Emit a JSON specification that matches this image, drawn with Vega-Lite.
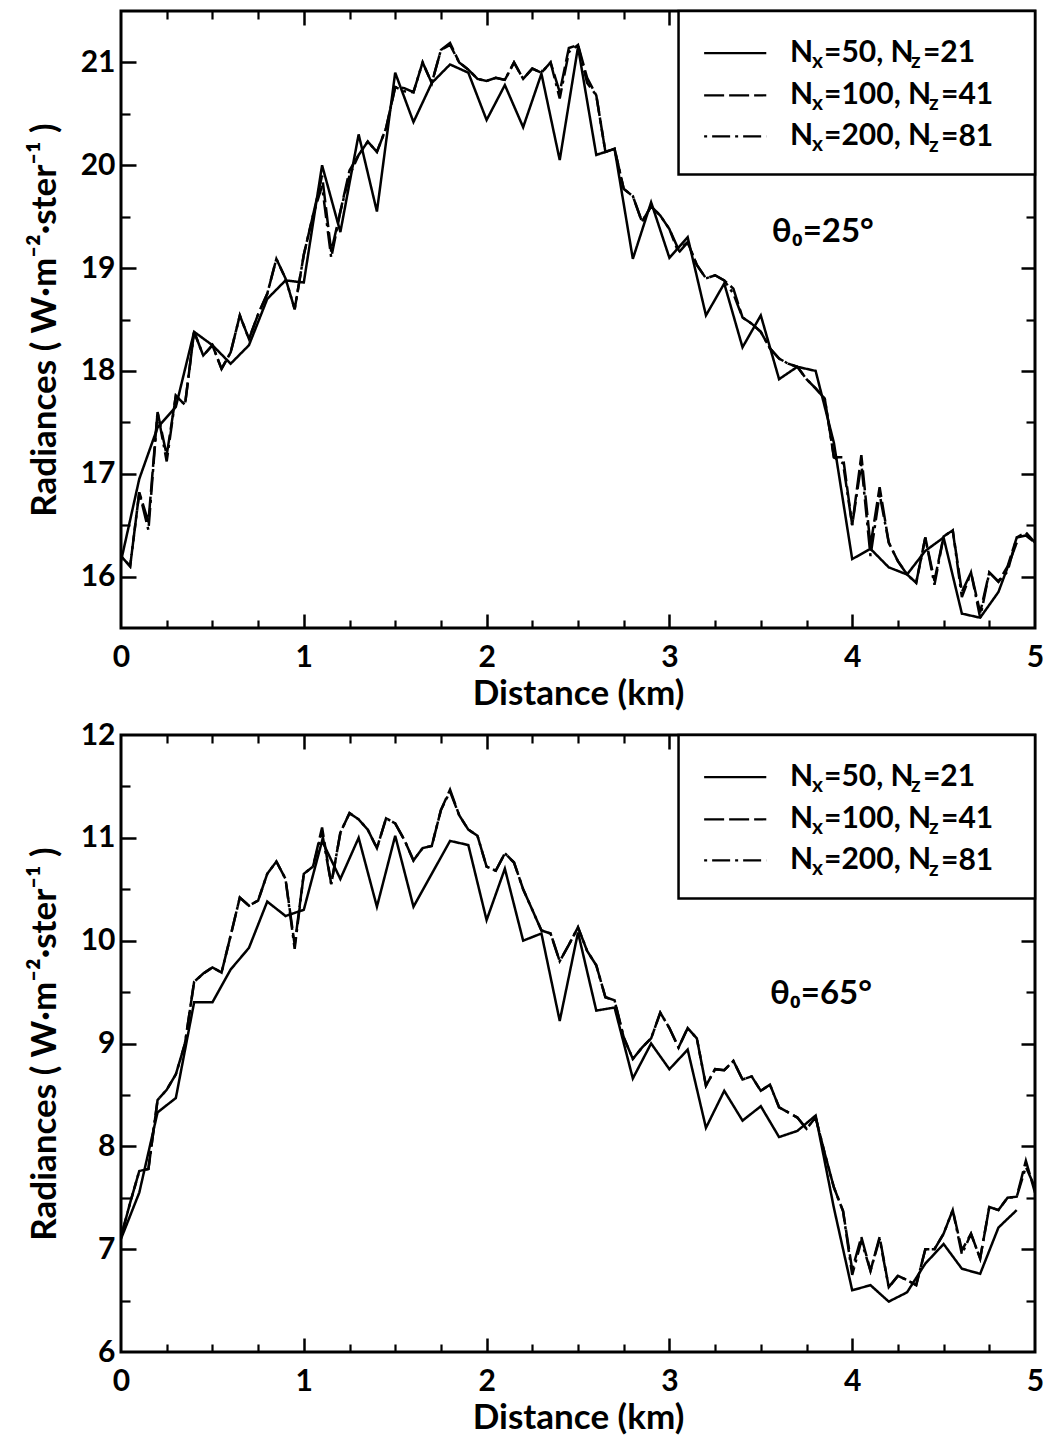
{
"$schema": "https://vega.github.io/schema/vega-lite/v6.json",
"padding": {"left": 25, "top": 8, "right": 5, "bottom": 5},
"spacing": 5,
"config": {"font": "Lato", "view": {"stroke": "black", "strokeWidth": 3}, "axis": {"labelColor": "black", "titleColor": "black", "tickColor": "black", "grid": false}, "text": {"color": "black"}},
"datasets": {
"top": [
{"distance":0,"nx50":16.15,"nx100":16.2,"nx200":16.2},
{"distance":0.05,"nx100":16.1,"nx200":16.1},
{"distance":0.1,"nx50":16.95,"nx100":16.82,"nx200":16.82},
{"distance":0.15,"nx100":16.53,"nx200":16.45},
{"distance":0.2,"nx50":17.45,"nx100":17.6,"nx200":17.6},
{"distance":0.25,"nx100":17.18,"nx200":17.12},
{"distance":0.3,"nx50":17.65,"nx100":17.76,"nx200":17.76},
{"distance":0.35,"nx100":17.67,"nx200":17.67},
{"distance":0.4,"nx50":18.38,"nx100":18.38,"nx200":18.38},
{"distance":0.45,"nx100":18.15,"nx200":18.15},
{"distance":0.5,"nx50":18.25,"nx100":18.25,"nx200":18.25},
{"distance":0.55,"nx100":18.02,"nx200":18.02},
{"distance":0.6,"nx50":18.07,"nx100":18.18,"nx200":18.18},
{"distance":0.65,"nx100":18.54,"nx200":18.54},
{"distance":0.7,"nx50":18.25,"nx100":18.31,"nx200":18.31},
{"distance":0.75,"nx100":18.55,"nx200":18.55},
{"distance":0.8,"nx50":18.7,"nx100":18.75,"nx200":18.75},
{"distance":0.85,"nx100":19.09,"nx200":19.09},
{"distance":0.9,"nx50":18.88,"nx100":18.9,"nx200":18.9},
{"distance":0.95,"nx100":18.6,"nx200":18.6},
{"distance":1,"nx50":18.86,"nx100":19.13,"nx200":19.13},
{"distance":1.05,"nx100":19.51,"nx200":19.51},
{"distance":1.1,"nx50":20.0,"nx100":19.9,"nx200":19.8},
{"distance":1.15,"nx100":19.16,"nx200":19.1},
{"distance":1.2,"nx50":19.35,"nx100":19.55,"nx200":19.55},
{"distance":1.25,"nx100":19.95,"nx200":19.9},
{"distance":1.3,"nx50":20.3,"nx100":20.1,"nx200":20.1},
{"distance":1.35,"nx100":20.23,"nx200":20.23},
{"distance":1.4,"nx50":19.55,"nx100":20.13,"nx200":20.13},
{"distance":1.45,"nx100":20.36,"nx200":20.36},
{"distance":1.5,"nx50":20.9,"nx100":20.76,"nx200":20.76},
{"distance":1.55,"nx100":20.75,"nx200":20.72},
{"distance":1.6,"nx50":20.42,"nx100":20.71,"nx200":20.71},
{"distance":1.65,"nx100":21.0,"nx200":21.0},
{"distance":1.7,"nx50":20.8,"nx100":20.8,"nx200":20.8},
{"distance":1.75,"nx100":21.12,"nx200":21.12},
{"distance":1.8,"nx50":20.98,"nx100":21.19,"nx200":21.17},
{"distance":1.85,"nx100":21.0,"nx200":21.0},
{"distance":1.9,"nx50":20.9,"nx100":20.93,"nx200":20.93},
{"distance":1.95,"nx100":20.84,"nx200":20.84},
{"distance":2,"nx50":20.44,"nx100":20.82,"nx200":20.82},
{"distance":2.05,"nx100":20.85,"nx200":20.85},
{"distance":2.1,"nx50":20.78,"nx100":20.83,"nx200":20.83},
{"distance":2.15,"nx100":21.0,"nx200":21.0},
{"distance":2.2,"nx50":20.37,"nx100":20.84,"nx200":20.84},
{"distance":2.25,"nx100":20.94,"nx200":20.94},
{"distance":2.3,"nx50":20.89,"nx100":20.9,"nx200":20.9},
{"distance":2.35,"nx100":21.0,"nx200":21.0},
{"distance":2.4,"nx50":20.05,"nx100":20.71,"nx200":20.65},
{"distance":2.45,"nx100":21.14,"nx200":21.1},
{"distance":2.5,"nx50":21.15,"nx100":21.17,"nx200":21.17},
{"distance":2.55,"nx100":20.85,"nx200":20.8},
{"distance":2.6,"nx50":20.1,"nx100":20.68,"nx200":20.68},
{"distance":2.65,"nx100":20.13,"nx200":20.13},
{"distance":2.7,"nx50":20.16,"nx100":20.16,"nx200":20.16},
{"distance":2.75,"nx100":19.77,"nx200":19.77},
{"distance":2.8,"nx50":19.09,"nx100":19.7,"nx200":19.7},
{"distance":2.85,"nx100":19.45,"nx200":19.45},
{"distance":2.9,"nx50":19.64,"nx100":19.6,"nx200":19.6},
{"distance":2.95,"nx100":19.51,"nx200":19.51},
{"distance":3,"nx50":19.1,"nx100":19.38,"nx200":19.38},
{"distance":3.05,"nx100":19.18,"nx200":19.15},
{"distance":3.1,"nx50":19.3,"nx100":19.25,"nx200":19.25},
{"distance":3.15,"nx100":19.03,"nx200":19.03},
{"distance":3.2,"nx50":18.54,"nx100":18.9,"nx200":18.9},
{"distance":3.25,"nx100":18.93,"nx200":18.93},
{"distance":3.3,"nx50":18.85,"nx100":18.88,"nx200":18.88},
{"distance":3.35,"nx100":18.8,"nx200":18.75},
{"distance":3.4,"nx50":18.23,"nx100":18.52,"nx200":18.52},
{"distance":3.45,"nx100":18.46,"nx200":18.46},
{"distance":3.5,"nx50":18.54,"nx100":18.38,"nx200":18.38},
{"distance":3.55,"nx100":18.22,"nx200":18.22},
{"distance":3.6,"nx50":17.92,"nx100":18.12,"nx200":18.12},
{"distance":3.65,"nx100":18.07,"nx200":18.07},
{"distance":3.7,"nx50":18.04,"nx100":18.04,"nx200":18.04},
{"distance":3.75,"nx100":17.92,"nx200":17.92},
{"distance":3.8,"nx50":18.0,"nx100":17.83,"nx200":17.83},
{"distance":3.85,"nx100":17.73,"nx200":17.73},
{"distance":3.9,"nx50":17.3,"nx100":17.16,"nx200":17.16},
{"distance":3.95,"nx100":17.16,"nx200":17.1},
{"distance":4,"nx50":16.17,"nx100":16.5,"nx200":16.5},
{"distance":4.05,"nx100":17.18,"nx200":17.1},
{"distance":4.1,"nx50":16.27,"nx100":16.3,"nx200":16.2},
{"distance":4.15,"nx100":16.87,"nx200":16.8},
{"distance":4.2,"nx50":16.09,"nx100":16.33,"nx200":16.33},
{"distance":4.25,"nx100":16.15,"nx200":16.15},
{"distance":4.3,"nx50":16.02,"nx100":16.02,"nx200":16.02},
{"distance":4.35,"nx100":15.94,"nx200":15.94},
{"distance":4.4,"nx50":16.25,"nx100":16.38,"nx200":16.38},
{"distance":4.45,"nx100":15.96,"nx200":15.92},
{"distance":4.5,"nx50":16.38,"nx100":16.39,"nx200":16.39},
{"distance":4.55,"nx100":16.45,"nx200":16.45},
{"distance":4.6,"nx50":15.64,"nx100":15.85,"nx200":15.8},
{"distance":4.65,"nx100":16.04,"nx200":16.04},
{"distance":4.7,"nx50":15.6,"nx100":15.65,"nx200":15.6},
{"distance":4.75,"nx100":16.04,"nx200":16.04},
{"distance":4.8,"nx50":15.85,"nx100":15.95,"nx200":15.95},
{"distance":4.85,"nx100":16.1,"nx200":16.05},
{"distance":4.9,"nx50":16.33,"nx100":16.38,"nx200":16.38},
{"distance":4.95,"nx100":16.43,"nx200":16.4},
{"distance":5,"nx100":16.33,"nx200":16.33}
],
"bottom": [
{"distance":0,"nx50":7.1,"nx100":7.12,"nx200":7.12},
{"distance":0.05,"nx100":7.45,"nx200":7.45},
{"distance":0.1,"nx50":7.55,"nx100":7.76,"nx200":7.76},
{"distance":0.15,"nx100":7.78,"nx200":7.78},
{"distance":0.2,"nx50":8.33,"nx100":8.45,"nx200":8.45},
{"distance":0.25,"nx100":8.55,"nx200":8.55},
{"distance":0.3,"nx50":8.47,"nx100":8.7,"nx200":8.7},
{"distance":0.35,"nx100":9.0,"nx200":9.0},
{"distance":0.4,"nx50":9.4,"nx100":9.6,"nx200":9.6},
{"distance":0.45,"nx100":9.68,"nx200":9.68},
{"distance":0.5,"nx50":9.4,"nx100":9.74,"nx200":9.74},
{"distance":0.55,"nx100":9.69,"nx200":9.69},
{"distance":0.6,"nx50":9.72,"nx100":10.05,"nx200":10.05},
{"distance":0.65,"nx100":10.42,"nx200":10.42},
{"distance":0.7,"nx50":9.93,"nx100":10.34,"nx200":10.34},
{"distance":0.75,"nx100":10.39,"nx200":10.39},
{"distance":0.8,"nx50":10.38,"nx100":10.65,"nx200":10.65},
{"distance":0.85,"nx100":10.77,"nx200":10.77},
{"distance":0.9,"nx50":10.24,"nx100":10.6,"nx200":10.6},
{"distance":0.95,"nx100":9.96,"nx200":9.92},
{"distance":1,"nx50":10.3,"nx100":10.65,"nx200":10.65},
{"distance":1.05,"nx100":10.72,"nx200":10.72},
{"distance":1.1,"nx50":10.97,"nx100":11.1,"nx200":11.05},
{"distance":1.15,"nx100":10.55,"nx200":10.55},
{"distance":1.2,"nx50":10.6,"nx100":11.05,"nx200":11.05},
{"distance":1.25,"nx100":11.24,"nx200":11.24},
{"distance":1.3,"nx50":11.0,"nx100":11.18,"nx200":11.18},
{"distance":1.35,"nx100":11.08,"nx200":11.08},
{"distance":1.4,"nx50":10.33,"nx100":10.9,"nx200":10.9},
{"distance":1.45,"nx100":11.19,"nx200":11.19},
{"distance":1.5,"nx50":11.02,"nx100":11.14,"nx200":11.14},
{"distance":1.55,"nx100":10.98,"nx200":10.98},
{"distance":1.6,"nx50":10.33,"nx100":10.78,"nx200":10.78},
{"distance":1.65,"nx100":10.9,"nx200":10.9},
{"distance":1.7,"nx50":10.65,"nx100":10.92,"nx200":10.92},
{"distance":1.75,"nx100":11.27,"nx200":11.27},
{"distance":1.8,"nx50":10.97,"nx100":11.47,"nx200":11.45},
{"distance":1.85,"nx100":11.22,"nx200":11.22},
{"distance":1.9,"nx50":10.93,"nx100":11.08,"nx200":11.08},
{"distance":1.95,"nx100":11.02,"nx200":11.02},
{"distance":2,"nx50":10.2,"nx100":10.72,"nx200":10.72},
{"distance":2.05,"nx100":10.68,"nx200":10.68},
{"distance":2.1,"nx50":10.7,"nx100":10.85,"nx200":10.85},
{"distance":2.15,"nx100":10.76,"nx200":10.76},
{"distance":2.2,"nx50":10.0,"nx100":10.5,"nx200":10.5},
{"distance":2.25,"nx100":10.3,"nx200":10.3},
{"distance":2.3,"nx50":10.07,"nx100":10.1,"nx200":10.1},
{"distance":2.35,"nx100":10.07,"nx200":10.07},
{"distance":2.4,"nx50":9.22,"nx100":9.8,"nx200":9.8},
{"distance":2.45,"nx100":9.96,"nx200":9.96},
{"distance":2.5,"nx50":10.08,"nx100":10.13,"nx200":10.13},
{"distance":2.55,"nx100":9.9,"nx200":9.9},
{"distance":2.6,"nx50":9.32,"nx100":9.76,"nx200":9.76},
{"distance":2.65,"nx100":9.45,"nx200":9.45},
{"distance":2.7,"nx50":9.35,"nx100":9.42,"nx200":9.42},
{"distance":2.75,"nx100":9.06,"nx200":9.06},
{"distance":2.8,"nx50":8.66,"nx100":8.85,"nx200":8.85},
{"distance":2.85,"nx100":8.96,"nx200":8.96},
{"distance":2.9,"nx50":9.0,"nx100":9.05,"nx200":9.05},
{"distance":2.95,"nx100":9.3,"nx200":9.3},
{"distance":3,"nx50":8.75,"nx100":9.15,"nx200":9.15},
{"distance":3.05,"nx100":8.96,"nx200":8.96},
{"distance":3.1,"nx50":8.94,"nx100":9.15,"nx200":9.15},
{"distance":3.15,"nx100":9.05,"nx200":9.05},
{"distance":3.2,"nx50":8.18,"nx100":8.59,"nx200":8.59},
{"distance":3.25,"nx100":8.75,"nx200":8.75},
{"distance":3.3,"nx50":8.54,"nx100":8.74,"nx200":8.74},
{"distance":3.35,"nx100":8.83,"nx200":8.83},
{"distance":3.4,"nx50":8.25,"nx100":8.65,"nx200":8.65},
{"distance":3.45,"nx100":8.68,"nx200":8.68},
{"distance":3.5,"nx50":8.39,"nx100":8.54,"nx200":8.54},
{"distance":3.55,"nx100":8.6,"nx200":8.6},
{"distance":3.6,"nx50":8.09,"nx100":8.38,"nx200":8.38},
{"distance":3.65,"nx100":8.33,"nx200":8.33},
{"distance":3.7,"nx50":8.15,"nx100":8.28,"nx200":8.28},
{"distance":3.75,"nx100":8.17,"nx200":8.17},
{"distance":3.8,"nx50":8.3,"nx100":8.28,"nx200":8.28},
{"distance":3.85,"nx100":7.93,"nx200":7.93},
{"distance":3.9,"nx50":7.4,"nx100":7.6,"nx200":7.6},
{"distance":3.95,"nx100":7.37,"nx200":7.37},
{"distance":4,"nx50":6.6,"nx100":6.8,"nx200":6.75},
{"distance":4.05,"nx100":7.12,"nx200":7.08},
{"distance":4.1,"nx50":6.65,"nx100":6.79,"nx200":6.79},
{"distance":4.15,"nx100":7.12,"nx200":7.1},
{"distance":4.2,"nx50":6.49,"nx100":6.63,"nx200":6.63},
{"distance":4.25,"nx100":6.74,"nx200":6.74},
{"distance":4.3,"nx50":6.58,"nx100":6.7,"nx200":6.7},
{"distance":4.35,"nx100":6.65,"nx200":6.65},
{"distance":4.4,"nx50":6.86,"nx100":7.0,"nx200":7.0},
{"distance":4.45,"nx100":7.0,"nx200":7.0},
{"distance":4.5,"nx50":7.05,"nx100":7.15,"nx200":7.15},
{"distance":4.55,"nx100":7.38,"nx200":7.38},
{"distance":4.6,"nx50":6.81,"nx100":6.99,"nx200":6.95},
{"distance":4.65,"nx100":7.15,"nx200":7.15},
{"distance":4.7,"nx50":6.76,"nx100":6.91,"nx200":6.91},
{"distance":4.75,"nx100":7.41,"nx200":7.41},
{"distance":4.8,"nx50":7.21,"nx100":7.38,"nx200":7.38},
{"distance":4.85,"nx100":7.5,"nx200":7.5},
{"distance":4.9,"nx50":7.38,"nx100":7.51,"nx200":7.51},
{"distance":4.95,"nx100":7.86,"nx200":7.8},
{"distance":5,"nx100":7.55,"nx200":7.6}
]
},
"vconcat": [
{
"width": 914, "height": 617,
"resolve": {"axis": {"x": "independent", "y": "independent"}},
"layer": [
{"data": {"name": "top"},
 "transform": [{"fold": ["nx50","nx100","nx200"], "as": ["series","radiance"]}, {"filter": {"field": "radiance", "valid": true}}],
 "mark": {"type": "line", "color": "black", "strokeWidth": 2.5, "clip": true},
 "encoding": {
  "x": {"field": "distance", "type": "quantitative", "scale": {"domain": [0,5], "nice": false, "zero": false},
        "axis": {"orient": "bottom", "values": [0,1,2,3,4,5], "format": "d", "ticks": false, "domain": false, "labelFontSize": 30, "labelFontWeight": "bold", "labelPadding": 14, "labelFlush": false, "labelOverlap": false, "title": "Distance (km)", "titleFontSize": 35, "titleFontWeight": "bold", "titlePadding": 4}},
  "y": {"field": "radiance", "type": "quantitative", "scale": {"domain": [15.5,21.5], "nice": false, "zero": false},
        "axis": {"orient": "left", "values": [16,17,18,19,20,21], "format": "d", "ticks": false, "domain": false, "labelFontSize": 30, "labelFontWeight": "bold", "labelPadding": 6, "labelFlush": false, "labelOverlap": false, "title": "Radiances ( W·m⁻²·ster⁻¹ )", "titleFontSize": 35, "titleFontWeight": "bold", "titlePadding": 18}},
  "strokeDash": {"field": "series", "type": "nominal", "scale": {"domain": ["nx50","nx100","nx200"], "range": [[1,0],[20,5],[3,5,18,5]]}, "legend": null}
 }},
{"data": {"values": [{}]},
 "mark": {"type": "rect", "fill": "white", "stroke": "black", "strokeWidth": 2.5},
 "encoding": {
  "x": {"datum": 3.05, "type": "quantitative", "scale": {"domain": [0,5], "nice": false, "zero": false}, "axis": {"orient": "bottom", "values": [1,2,3,4], "labels": false, "domain": false, "tickSize": -14, "tickWidth": 2.5, "title": null}},
  "x2": {"datum": 5},
  "y": {"datum": 19.91, "type": "quantitative", "scale": {"domain": [15.5,21.5], "nice": false, "zero": false}, "axis": {"orient": "left", "values": [16,17,18,19,20,21], "labels": false, "domain": false, "tickSize": -15, "tickWidth": 2.5, "title": null}},
  "y2": {"datum": 21.5}
 }},
{"data": {"values": [{}]},
 "mark": {"type": "rule", "color": "black", "strokeWidth": 2.2},
 "encoding": {
  "x": {"datum": 3.19, "type": "quantitative", "scale": {"domain": [0,5], "nice": false, "zero": false}, "axis": {"orient": "bottom", "values": [0.25,0.5,0.75,1.25,1.5,1.75,2.25,2.5,2.75,3.25,3.5,3.75,4.25,4.5,4.75], "labels": false, "domain": false, "tickSize": -8, "tickWidth": 2.2, "title": null}},
  "x2": {"datum": 3.53},
  "y": {"datum": 21.09, "type": "quantitative", "scale": {"domain": [15.5,21.5], "nice": false, "zero": false}, "axis": {"orient": "left", "values": [16.5,17.5,18.5,19.5,20.5], "labels": false, "domain": false, "tickSize": -9, "tickWidth": 2.2, "title": null}}
 }},
{"data": {"values": [{}]},
 "mark": {"type": "rule", "color": "black", "strokeWidth": 2.2, "strokeDash": [20,5]},
 "encoding": {
  "x": {"datum": 3.19, "type": "quantitative", "scale": {"domain": [0,5], "nice": false, "zero": false}, "axis": {"orient": "top", "values": [1,2,3,4], "labels": false, "domain": false, "tickSize": -14, "tickWidth": 2.5, "title": null}},
  "x2": {"datum": 3.53},
  "y": {"datum": 20.68, "type": "quantitative", "scale": {"domain": [15.5,21.5], "nice": false, "zero": false}, "axis": {"orient": "right", "values": [16,17,18,19,20,21], "labels": false, "domain": false, "tickSize": -14, "tickWidth": 2.5, "title": null}}
 }},
{"data": {"values": [{}]},
 "mark": {"type": "rule", "color": "black", "strokeWidth": 2.2, "strokeDash": [3,5,18,5]},
 "encoding": {
  "x": {"datum": 3.19, "type": "quantitative", "scale": {"domain": [0,5], "nice": false, "zero": false}, "axis": {"orient": "top", "values": [0.25,0.5,0.75,1.25,1.5,1.75,2.25,2.5,2.75,3.25,3.5,3.75,4.25,4.5,4.75], "labels": false, "domain": false, "tickSize": -8, "tickWidth": 2.2, "title": null}},
  "x2": {"datum": 3.53},
  "y": {"datum": 20.28, "type": "quantitative", "scale": {"domain": [15.5,21.5], "nice": false, "zero": false}, "axis": {"orient": "right", "values": [16.5,17.5,18.5,19.5,20.5], "labels": false, "domain": false, "tickSize": -9, "tickWidth": 2.2, "title": null}}
 }},
{"data": {"values": [{}]},
 "mark": {"type": "text", "align": "left", "baseline": "middle", "fontSize": 30, "fontWeight": "bold", "lineHeight": 41.6},
 "encoding": {"x": {"datum": 3.66, "type": "quantitative", "axis": null}, "y": {"datum": 21.09, "type": "quantitative", "axis": null}, "text": {"value": ["N","N","N"]}}},
{"data": {"values": [{}]},
 "mark": {"type": "text", "align": "left", "baseline": "middle", "fontSize": 21, "fontWeight": "bold", "lineHeight": 41.6, "dy": 9},
 "encoding": {"x": {"datum": 3.78, "type": "quantitative", "axis": null}, "y": {"datum": 21.09, "type": "quantitative", "axis": null}, "text": {"value": ["x","x","x"]}}},
{"data": {"values": [{}]},
 "mark": {"type": "text", "align": "left", "baseline": "middle", "fontSize": 30, "fontWeight": "bold", "lineHeight": 41.6},
 "encoding": {"x": {"datum": 3.846, "type": "quantitative", "axis": null}, "y": {"datum": 21.09, "type": "quantitative", "axis": null}, "text": {"value": ["=50, N","=100, N","=200, N"]}}},
{"data": {"values": [{}]},
 "mark": {"type": "text", "align": "left", "baseline": "middle", "fontSize": 21, "fontWeight": "bold", "dy": 9},
 "encoding": {"x": {"datum": 4.322, "type": "quantitative", "axis": null}, "y": {"datum": 21.09, "type": "quantitative", "axis": null}, "text": {"value": "z"}}},
{"data": {"values": [{}]},
 "mark": {"type": "text", "align": "left", "baseline": "middle", "fontSize": 30, "fontWeight": "bold"},
 "encoding": {"x": {"datum": 4.387, "type": "quantitative", "axis": null}, "y": {"datum": 21.09, "type": "quantitative", "axis": null}, "text": {"value": "=21"}}},
{"data": {"values": [{}]},
 "mark": {"type": "text", "align": "left", "baseline": "middle", "fontSize": 21, "fontWeight": "bold", "lineHeight": 41.6, "dy": 9},
 "encoding": {"x": {"datum": 4.42, "type": "quantitative", "axis": null}, "y": {"datum": 20.68, "type": "quantitative", "axis": null}, "text": {"value": ["z","z"]}}},
{"data": {"values": [{}]},
 "mark": {"type": "text", "align": "left", "baseline": "middle", "fontSize": 30, "fontWeight": "bold", "lineHeight": 41.6},
 "encoding": {"x": {"datum": 4.486, "type": "quantitative", "axis": null}, "y": {"datum": 20.68, "type": "quantitative", "axis": null}, "text": {"value": ["=41","=81"]}}},
{"data": {"values": [{}]},
 "mark": {"type": "text", "align": "left", "baseline": "middle", "fontSize": 33, "fontWeight": "bold"},
 "encoding": {"x": {"datum": 3.56, "type": "quantitative", "axis": null}, "y": {"datum": 19.35, "type": "quantitative", "axis": null}, "text": {"value": "θ₀=25°"}}}
]
},
{
"width": 914, "height": 617,
"resolve": {"axis": {"x": "independent", "y": "independent"}},
"layer": [
{"data": {"name": "bottom"},
 "transform": [{"fold": ["nx50","nx100","nx200"], "as": ["series","radiance"]}, {"filter": {"field": "radiance", "valid": true}}],
 "mark": {"type": "line", "color": "black", "strokeWidth": 2.5, "clip": true},
 "encoding": {
  "x": {"field": "distance", "type": "quantitative", "scale": {"domain": [0,5], "nice": false, "zero": false},
        "axis": {"orient": "bottom", "values": [0,1,2,3,4,5], "format": "d", "ticks": false, "domain": false, "labelFontSize": 30, "labelFontWeight": "bold", "labelPadding": 14, "labelFlush": false, "labelOverlap": false, "title": "Distance (km)", "titleFontSize": 35, "titleFontWeight": "bold", "titlePadding": 4}},
  "y": {"field": "radiance", "type": "quantitative", "scale": {"domain": [6,12], "nice": false, "zero": false},
        "axis": {"orient": "left", "values": [6,7,8,9,10,11,12], "format": "d", "ticks": false, "domain": false, "labelFontSize": 30, "labelFontWeight": "bold", "labelPadding": 6, "labelFlush": false, "labelOverlap": false, "title": "Radiances ( W·m⁻²·ster⁻¹ )", "titleFontSize": 35, "titleFontWeight": "bold", "titlePadding": 18}},
  "strokeDash": {"field": "series", "type": "nominal", "scale": {"domain": ["nx50","nx100","nx200"], "range": [[1,0],[20,5],[3,5,18,5]]}, "legend": null}
 }},
{"data": {"values": [{}]},
 "mark": {"type": "rect", "fill": "white", "stroke": "black", "strokeWidth": 2.5},
 "encoding": {
  "x": {"datum": 3.05, "type": "quantitative", "scale": {"domain": [0,5], "nice": false, "zero": false}, "axis": {"orient": "bottom", "values": [1,2,3,4], "labels": false, "domain": false, "tickSize": -14, "tickWidth": 2.5, "title": null}},
  "x2": {"datum": 5},
  "y": {"datum": 10.41, "type": "quantitative", "scale": {"domain": [6,12], "nice": false, "zero": false}, "axis": {"orient": "left", "values": [7,8,9,10,11], "labels": false, "domain": false, "tickSize": -15, "tickWidth": 2.5, "title": null}},
  "y2": {"datum": 12}
 }},
{"data": {"values": [{}]},
 "mark": {"type": "rule", "color": "black", "strokeWidth": 2.2},
 "encoding": {
  "x": {"datum": 3.19, "type": "quantitative", "scale": {"domain": [0,5], "nice": false, "zero": false}, "axis": {"orient": "bottom", "values": [0.25,0.5,0.75,1.25,1.5,1.75,2.25,2.5,2.75,3.25,3.5,3.75,4.25,4.5,4.75], "labels": false, "domain": false, "tickSize": -8, "tickWidth": 2.2, "title": null}},
  "x2": {"datum": 3.53},
  "y": {"datum": 11.59, "type": "quantitative", "scale": {"domain": [6,12], "nice": false, "zero": false}, "axis": {"orient": "left", "values": [6.5,7.5,8.5,9.5,10.5,11.5], "labels": false, "domain": false, "tickSize": -9, "tickWidth": 2.2, "title": null}}
 }},
{"data": {"values": [{}]},
 "mark": {"type": "rule", "color": "black", "strokeWidth": 2.2, "strokeDash": [20,5]},
 "encoding": {
  "x": {"datum": 3.19, "type": "quantitative", "scale": {"domain": [0,5], "nice": false, "zero": false}, "axis": {"orient": "top", "values": [1,2,3,4], "labels": false, "domain": false, "tickSize": -14, "tickWidth": 2.5, "title": null}},
  "x2": {"datum": 3.53},
  "y": {"datum": 11.18, "type": "quantitative", "scale": {"domain": [6,12], "nice": false, "zero": false}, "axis": {"orient": "right", "values": [7,8,9,10,11], "labels": false, "domain": false, "tickSize": -14, "tickWidth": 2.5, "title": null}}
 }},
{"data": {"values": [{}]},
 "mark": {"type": "rule", "color": "black", "strokeWidth": 2.2, "strokeDash": [3,5,18,5]},
 "encoding": {
  "x": {"datum": 3.19, "type": "quantitative", "scale": {"domain": [0,5], "nice": false, "zero": false}, "axis": {"orient": "top", "values": [0.25,0.5,0.75,1.25,1.5,1.75,2.25,2.5,2.75,3.25,3.5,3.75,4.25,4.5,4.75], "labels": false, "domain": false, "tickSize": -8, "tickWidth": 2.2, "title": null}},
  "x2": {"datum": 3.53},
  "y": {"datum": 10.78, "type": "quantitative", "scale": {"domain": [6,12], "nice": false, "zero": false}, "axis": {"orient": "right", "values": [6.5,7.5,8.5,9.5,10.5,11.5], "labels": false, "domain": false, "tickSize": -9, "tickWidth": 2.2, "title": null}}
 }},
{"data": {"values": [{}]},
 "mark": {"type": "text", "align": "left", "baseline": "middle", "fontSize": 30, "fontWeight": "bold", "lineHeight": 41.6},
 "encoding": {"x": {"datum": 3.66, "type": "quantitative", "axis": null}, "y": {"datum": 11.59, "type": "quantitative", "axis": null}, "text": {"value": ["N","N","N"]}}},
{"data": {"values": [{}]},
 "mark": {"type": "text", "align": "left", "baseline": "middle", "fontSize": 21, "fontWeight": "bold", "lineHeight": 41.6, "dy": 9},
 "encoding": {"x": {"datum": 3.78, "type": "quantitative", "axis": null}, "y": {"datum": 11.59, "type": "quantitative", "axis": null}, "text": {"value": ["x","x","x"]}}},
{"data": {"values": [{}]},
 "mark": {"type": "text", "align": "left", "baseline": "middle", "fontSize": 30, "fontWeight": "bold", "lineHeight": 41.6},
 "encoding": {"x": {"datum": 3.846, "type": "quantitative", "axis": null}, "y": {"datum": 11.59, "type": "quantitative", "axis": null}, "text": {"value": ["=50, N","=100, N","=200, N"]}}},
{"data": {"values": [{}]},
 "mark": {"type": "text", "align": "left", "baseline": "middle", "fontSize": 21, "fontWeight": "bold", "dy": 9},
 "encoding": {"x": {"datum": 4.322, "type": "quantitative", "axis": null}, "y": {"datum": 11.59, "type": "quantitative", "axis": null}, "text": {"value": "z"}}},
{"data": {"values": [{}]},
 "mark": {"type": "text", "align": "left", "baseline": "middle", "fontSize": 30, "fontWeight": "bold"},
 "encoding": {"x": {"datum": 4.387, "type": "quantitative", "axis": null}, "y": {"datum": 11.59, "type": "quantitative", "axis": null}, "text": {"value": "=21"}}},
{"data": {"values": [{}]},
 "mark": {"type": "text", "align": "left", "baseline": "middle", "fontSize": 21, "fontWeight": "bold", "lineHeight": 41.6, "dy": 9},
 "encoding": {"x": {"datum": 4.42, "type": "quantitative", "axis": null}, "y": {"datum": 11.18, "type": "quantitative", "axis": null}, "text": {"value": ["z","z"]}}},
{"data": {"values": [{}]},
 "mark": {"type": "text", "align": "left", "baseline": "middle", "fontSize": 30, "fontWeight": "bold", "lineHeight": 41.6},
 "encoding": {"x": {"datum": 4.486, "type": "quantitative", "axis": null}, "y": {"datum": 11.18, "type": "quantitative", "axis": null}, "text": {"value": ["=41","=81"]}}},
{"data": {"values": [{}]},
 "mark": {"type": "text", "align": "left", "baseline": "middle", "fontSize": 33, "fontWeight": "bold"},
 "encoding": {"x": {"datum": 3.55, "type": "quantitative", "axis": null}, "y": {"datum": 9.48, "type": "quantitative", "axis": null}, "text": {"value": "θ₀=65°"}}}
]
}
]
}
